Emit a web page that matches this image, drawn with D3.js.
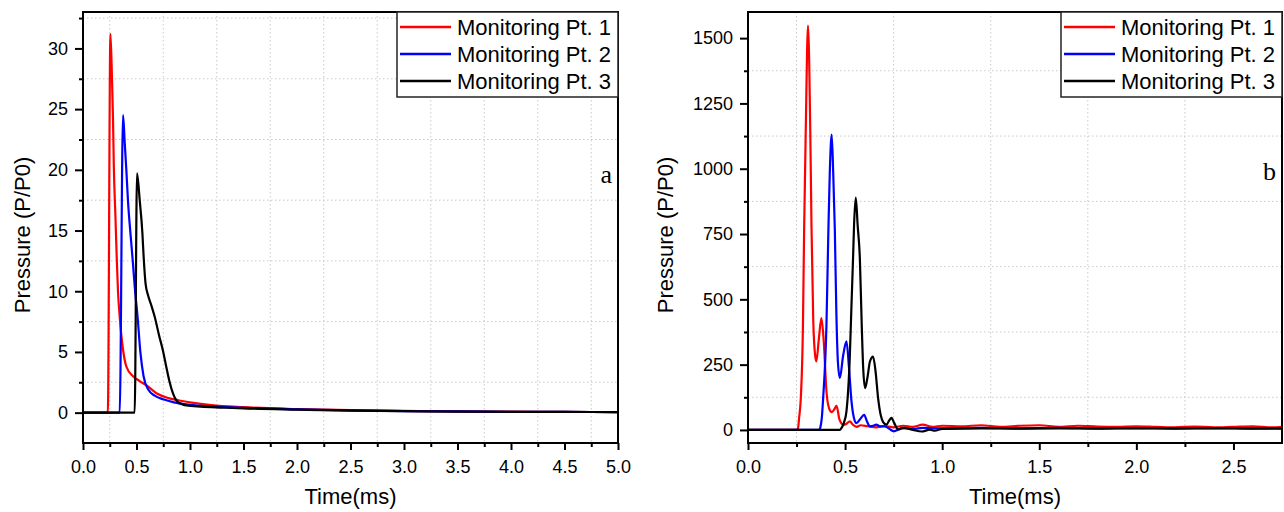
<!DOCTYPE html>
<html>
<head>
<meta charset="utf-8">
<script src="https://cdn.jsdelivr.net/npm/d3@7"></script>
<style>
  body { margin: 0; background: #fff; }
  svg { display: block; }
</style>
</head>
<body>
<script>
const seriesNames = ["Monitoring Pt. 1", "Monitoring Pt. 2", "Monitoring Pt. 3"];
const seriesColors = ["#ff0000", "#0000ff", "#000000"];

// panel a : [time ms, P/P0]
const pt1A = [[0,0],[0.232,0],[0.256,31.2],[0.268,28.5],[0.28,24.4],[0.288,20.3],[0.303,16.2],[0.315,12.8],[0.327,10],[0.343,7.9],[0.374,5.2],[0.405,3.8],[0.467,3.0],[0.53,2.6],[0.6,2.2],[0.686,1.6],[0.8,1.2],[0.9,1.0],[1.0,0.85],[1.2,0.62],[1.5,0.45],[2.0,0.3],[2.5,0.2],[3.0,0.14],[3.5,0.1],[4.0,0.08],[4.5,0.06],[5.0,0.05]];
const pt2A = [[0,0],[0.343,0],[0.374,24.5],[0.389,22.4],[0.405,20],[0.42,17.5],[0.446,14.5],[0.465,12.5],[0.487,10],[0.51,7.9],[0.536,5],[0.566,3],[0.61,1.9],[0.67,1.4],[0.75,1.1],[0.85,0.85],[1.0,0.65],[1.2,0.52],[1.5,0.4],[2.0,0.27],[2.5,0.18],[3.0,0.13],[3.5,0.1],[4.0,0.07],[4.5,0.06],[5.0,0.05]];
const pt3A = [[0,0],[0.483,0],[0.505,19.7],[0.53,17.5],[0.555,14.8],[0.567,12.8],[0.585,10.6],[0.61,9.6],[0.64,8.8],[0.67,7.9],[0.71,6.4],[0.75,5],[0.78,3.7],[0.81,2.5],[0.84,1.6],[0.873,1.0],[0.92,0.72],[0.965,0.6],[1.1,0.5],[1.3,0.42],[1.5,0.35],[2.0,0.25],[2.5,0.17],[3.0,0.12],[3.5,0.09],[4.0,0.07],[4.5,0.06],[5.0,0.05]];

// panel b : [time ms, P/P0]
const pt1B = [[0,0],[0.25,0],[0.258,8],[0.263,45],[0.272,122],[0.283,402],[0.289,765],[0.297,1128],[0.309,1548],[0.321,1128],[0.327,780],[0.336,420],[0.345,290],[0.352,262],[0.365,350],[0.378,428],[0.39,340],[0.404,148],[0.418,82],[0.432,68],[0.445,80],[0.456,92],[0.471,40],[0.49,20],[0.508,24],[0.524,33],[0.54,20],[0.56,12],[0.58,18],[0.617,14],[0.66,10],[0.7,15],[0.75,10],[0.8,16],[0.85,12],[0.9,20],[0.95,12],[1.0,16],[1.1,14],[1.2,18],[1.3,12],[1.4,16],[1.5,18],[1.6,12],[1.7,16],[1.8,13],[1.9,12],[2.0,14],[2.1,12],[2.2,10],[2.3,13],[2.4,10],[2.5,12],[2.6,14],[2.7,10],[2.75,12]];
const pt2B = [[0,0],[0.366,0],[0.372,8],[0.38,45],[0.387,122],[0.404,402],[0.414,765],[0.421,980],[0.431,1131],[0.439,980],[0.447,770],[0.455,450],[0.463,260],[0.473,199],[0.49,285],[0.507,339],[0.52,240],[0.533,109],[0.545,48],[0.559,26],[0.578,42],[0.598,58],[0.614,30],[0.627,14],[0.645,16],[0.661,20],[0.68,14],[0.704,14],[0.73,3],[0.75,-5],[0.77,0],[0.8,8],[0.85,4],[0.9,8],[1.0,6],[1.2,8],[1.4,6],[1.6,8],[1.8,6],[2.0,7],[2.2,6],[2.4,7],[2.6,6],[2.75,7]];
const pt3B = [[0,0],[0.472,0],[0.482,8],[0.495,30],[0.507,71],[0.524,275],[0.533,480],[0.541,657],[0.546,780],[0.555,889],[0.565,780],[0.576,657],[0.585,420],[0.593,240],[0.603,160],[0.615,200],[0.628,262],[0.644,281],[0.656,230],[0.67,122],[0.684,55],[0.696,30],[0.713,20],[0.727,36],[0.739,46],[0.752,28],[0.773,2],[0.79,6],[0.808,7],[0.85,0],[0.894,-6],[0.937,1],[0.962,-3],[1.0,4],[1.2,6],[1.4,5],[1.6,6],[1.8,5],[2.0,6],[2.2,5],[2.4,6],[2.6,5],[2.75,5]];

const xTicksA = [0, 0.5, 1, 1.5, 2, 2.5, 3, 3.5, 4, 4.5, 5];
const yTicksA = [0, 5, 10, 15, 20, 25, 30];
const xTicksB = [0, 0.5, 1, 1.5, 2, 2.5];
const yTicksB = [0, 250, 500, 750, 1000, 1250, 1500];

const sans = '"Liberation Sans", Arial, sans-serif';
const serif = '"Liberation Serif", "Times New Roman", serif';

const width = 1284, height = 512;
const svg = d3.select("body").append("svg")
    .attr("width", width)
    .attr("height", height)
    .attr("viewBox", [0, 0, width, height])
    .attr("font-family", sans);

function drawPanel(cfg) {
  const {id, left, right, top, bottom, xDomain, yDomain, xTicks, yTicks, series, tag, tagY, titleX} = cfg;
  const x = d3.scaleLinear().domain(xDomain).range([left, right]);
  const y = d3.scaleLinear().domain(yDomain).range([bottom, top]);
  const xStep = xTicks[1] - xTicks[0], yStep = yTicks[1] - yTicks[0];

  // minor positions (the grid sits on them)
  const xMinor = d3.range(xDomain[0] + xStep / 2, xDomain[1] - 1e-9, xStep);
  const yMinor = d3.range(yTicks[0] - yStep / 2, yDomain[1], yStep).filter(d => d > yDomain[0] && d < yDomain[1]);

  const g = svg.append("g");

  // grid
  g.append("g").selectAll("line").data(xMinor).join("line")
      .attr("x1", d => x(d)).attr("x2", d => x(d))
      .attr("y1", top).attr("y2", bottom)
      .attr("stroke", "#c9c9c9").attr("stroke-width", 1).attr("stroke-dasharray", "1.5,2.5");
  g.append("g").selectAll("line").data(yMinor).join("line")
      .attr("y1", d => y(d)).attr("y2", d => y(d))
      .attr("x1", left).attr("x2", right)
      .attr("stroke", "#c9c9c9").attr("stroke-width", 1).attr("stroke-dasharray", "1.5,2.5");

  // curves
  svg.append("clipPath").attr("id", id).append("rect")
      .attr("x", left).attr("y", top).attr("width", right - left).attr("height", bottom - top);
  const line = d3.line().x(d => x(d[0])).y(d => y(d[1])).curve(d3.curveMonotoneX);
  g.append("g").attr("clip-path", `url(#${id})`)
    .selectAll("path").data(series).join("path")
      .attr("d", d => line(d))
      .attr("fill", "none")
      .attr("stroke", (d, i) => seriesColors[i])
      .attr("stroke-width", 2.2)
      .attr("stroke-linejoin", "round");

  // axes
  g.append("g").attr("transform", `translate(0,${bottom})`)
      .call(d3.axisBottom(x).tickValues(xTicks).tickFormat(d3.format(".1f")).tickSize(7).tickPadding(10));
  g.append("g").attr("transform", `translate(0,${bottom})`)
      .call(d3.axisBottom(x).tickValues(xMinor).tickFormat("").tickSize(4));
  g.append("g").attr("transform", `translate(${left},0)`)
      .call(d3.axisLeft(y).tickValues(yTicks).tickFormat(d3.format("d")).tickSize(8).tickPadding(7));
  g.append("g").attr("transform", `translate(${left},0)`)
      .call(d3.axisLeft(y).tickValues(yMinor).tickFormat("").tickSize(4));
  g.selectAll(".domain").remove();
  g.selectAll(".tick line").attr("stroke", "#000").attr("stroke-width", 2);
  g.selectAll(".tick text").attr("font-size", 18).attr("fill", "#000")
      .attr("font-family", sans);

  // frame
  g.append("rect")
      .attr("x", left).attr("y", top).attr("width", right - left).attr("height", bottom - top)
      .attr("fill", "none").attr("stroke", "#000").attr("stroke-width", 2);

  // titles
  g.append("text")
      .attr("x", (left + right) / 2).attr("y", 504)
      .attr("text-anchor", "middle").attr("font-size", 22)
      .text("Time(ms)");
  g.append("text")
      .attr("transform", `translate(${titleX},235) rotate(-90)`)
      .attr("text-anchor", "middle").attr("font-size", 22)
      .text("Pressure (P/P0)");

  // panel tag
  g.append("text")
      .attr("x", right - 6).attr("y", tagY)
      .attr("text-anchor", "end")
      .attr("font-family", serif)
      .attr("font-size", 26)
      .text(tag);

  // legend
  const lw = 221, lh = 85;
  const lg = g.append("g").attr("transform", `translate(${right - lw},${top})`);
  lg.append("rect").attr("width", lw).attr("height", lh)
      .attr("fill", "#fff").attr("stroke", "#222").attr("stroke-width", 1.5);
  const rows = lg.selectAll("g").data(seriesNames).join("g")
      .attr("transform", (d, i) => `translate(0,${15 + i * 27})`);
  rows.append("line").attr("x1", 3).attr("x2", 54)
      .attr("stroke", (d, i) => seriesColors[i]).attr("stroke-width", 2.5);
  rows.append("text").attr("x", 60).attr("dy", "0.35em")
      .attr("font-size", 22).text(d => d);
}

drawPanel({
  id: "clipA", left: 83, right: 618, top: 12, bottom: 443,
  xDomain: [0, 5], yDomain: [-2.5, 33],
  xTicks: xTicksA, yTicks: yTicksA,
  series: [pt1A, pt2A, pt3A], tag: "a", tagY: 183, titleX: 30
});
drawPanel({
  id: "clipB", left: 748, right: 1282, top: 12, bottom: 443,
  xDomain: [0, 2.75], yDomain: [-50, 1600],
  xTicks: xTicksB, yTicks: yTicksB,
  series: [pt1B, pt2B, pt3B], tag: "b", tagY: 180, titleX: 673
});
</script>
</body>
</html>
